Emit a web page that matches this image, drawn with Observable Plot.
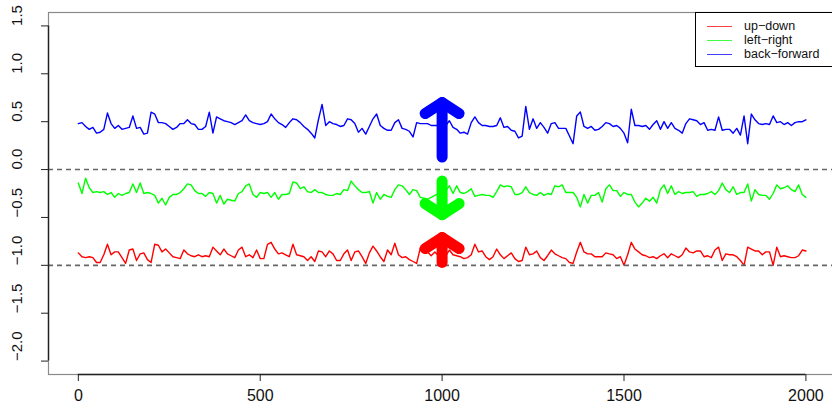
<!DOCTYPE html>
<html>
<head>
<meta charset="utf-8">
<script src="https://cdn.jsdelivr.net/npm/d3@7"></script>
<script src="https://cdn.jsdelivr.net/npm/@observablehq/plot@0.6"></script>
<style>
  html, body { margin: 0; padding: 0; background: #fff; overflow: hidden; }
  #chart { position: relative; width: 832px; height: 408px; font-family: "Liberation Sans", Arial, sans-serif; }
  #legend { position: absolute; left: 695px; top: 12px; width: 150px; height: 55px; border: 1px solid #000; box-sizing: border-box; background: #fff; }
  #legend .item { position: absolute; left: 0; height: 14px; font-size: 12.5px; color: #111; line-height: 14px; white-space: nowrap; }
  #legend .swatch { position: absolute; left: 11px; top: 7px; width: 25px; height: 1px; opacity: 0.75; }
  #legend .name { position: absolute; left: 48px; top: 0; }
</style>
</head>
<body>
<div id="chart"></div>
<script>
// Sample positions (every 10 steps from 0 to 2000)
const t = d3.range(0, 2001, 10);

// up-down channel
const upDown = [
  -0.87,-0.91,-0.92,-0.91,-0.92,-0.97,-0.97,-0.89,-0.78,-0.89,-0.86,-0.86,-0.92,-0.98,-0.84,-0.83,-0.95,-0.88,-0.87,-0.94,-0.97,-0.78,-0.79,-0.86,-0.83,-0.87,-0.91,-0.92,-0.93,-0.84,-0.88,-0.90,-0.91,-0.89,
  -0.91,-0.90,-0.91,-0.81,-0.85,-0.89,-0.83,-0.88,-0.90,-0.92,-0.84,-0.81,-0.91,-0.89,-0.92,-0.84,-0.93,-0.93,-0.78,-0.76,-0.83,-0.88,-0.87,-0.89,-0.91,-0.78,-0.89,-0.90,-0.91,-0.95,-0.91,-0.96,
  -0.85,-0.86,-0.91,-0.85,-0.88,-0.95,-0.95,-0.88,-0.84,-0.95,-0.86,-0.85,-0.91,-0.98,-0.87,-0.80,-0.85,-0.91,-0.96,-0.84,-0.89,-0.77,-0.89,-0.92,-0.91,-0.94,-0.96,-0.98,-0.82,-0.79,-0.86,-0.90,-0.86,-0.90,
  -0.89,-0.90,-0.84,-0.89,-0.90,-0.91,-0.93,-0.92,-0.89,-0.78,-0.86,-0.85,-0.91,-0.94,-0.91,-0.83,-0.89,-0.93,-0.90,-0.87,-0.93,-0.96,-0.95,-0.81,-0.89,-0.88,-0.85,-0.92,-0.95,-0.90,-0.84,-0.88,-0.90,
  -0.92,-0.93,-0.97,-0.98,-0.86,-0.76,-0.86,-0.88,-0.88,-0.91,-0.91,-0.91,-0.87,-0.88,-0.89,-0.93,-0.91,-1.00,-0.89,-0.76,-0.83,-0.86,-0.89,-0.90,-0.92,-0.91,-0.93,-0.90,-0.88,-0.92,-0.88,-0.90,-0.92,
  -0.89,-0.82,-0.86,-0.87,-0.85,-0.85,-0.91,-0.90,-0.92,-0.84,-0.81,-0.95,-0.88,-0.89,-0.89,-0.91,-0.95,-1.00,-0.81,-0.83,-0.85,-0.85,-0.89,-0.86,-0.86,-1.00,-0.81,-0.91,-0.90,-0.91,-0.92,-0.92,-0.90,-0.84,-0.85
];

// left-right channel
const leftRight = [
  -0.14,-0.25,-0.09,-0.19,-0.24,-0.23,-0.24,-0.23,-0.26,-0.24,-0.29,-0.25,-0.27,-0.25,-0.24,-0.15,-0.24,-0.14,-0.25,-0.24,-0.25,-0.27,-0.35,-0.30,-0.37,-0.29,-0.26,-0.26,-0.24,-0.20,-0.15,-0.16,-0.22,-0.25,
  -0.25,-0.28,-0.24,-0.25,-0.35,-0.27,-0.36,-0.31,-0.32,-0.33,-0.25,-0.23,-0.17,-0.15,-0.26,-0.29,-0.24,-0.25,-0.24,-0.29,-0.24,-0.31,-0.26,-0.26,-0.25,-0.13,-0.14,-0.20,-0.18,-0.23,-0.24,-0.21,
  -0.24,-0.24,-0.26,-0.27,-0.27,-0.25,-0.26,-0.21,-0.22,-0.12,-0.17,-0.21,-0.24,-0.24,-0.23,-0.35,-0.24,-0.31,-0.26,-0.28,-0.29,-0.21,-0.16,-0.17,-0.21,-0.26,-0.21,-0.22,-0.29,-0.30,-0.31,-0.29,-0.27,-0.25,
  -0.27,-0.22,-0.17,-0.25,-0.17,-0.24,-0.25,-0.23,-0.20,-0.28,-0.27,-0.26,-0.27,-0.27,-0.29,-0.23,-0.16,-0.18,-0.17,-0.18,-0.26,-0.26,-0.24,-0.18,-0.24,-0.26,-0.27,-0.24,-0.27,-0.25,-0.26,-0.17,-0.18,
  -0.16,-0.24,-0.24,-0.24,-0.29,-0.39,-0.26,-0.35,-0.27,-0.27,-0.24,-0.34,-0.20,-0.16,-0.22,-0.22,-0.28,-0.24,-0.26,-0.26,-0.34,-0.39,-0.35,-0.30,-0.33,-0.29,-0.35,-0.21,-0.16,-0.25,-0.17,-0.26,-0.23,
  -0.25,-0.24,-0.24,-0.23,-0.28,-0.26,-0.26,-0.25,-0.23,-0.26,-0.22,-0.14,-0.21,-0.24,-0.18,-0.26,-0.24,-0.24,-0.15,-0.33,-0.21,-0.26,-0.27,-0.27,-0.31,-0.25,-0.16,-0.20,-0.19,-0.17,-0.21,-0.23,-0.16,-0.26,-0.29
];

// back-forward channel
const backForward = [
  0.48,0.49,0.45,0.42,0.44,0.38,0.39,0.42,0.59,0.48,0.43,0.46,0.42,0.43,0.44,0.56,0.43,0.44,0.37,0.38,0.60,0.58,0.49,0.49,0.48,0.45,0.42,0.44,0.48,0.48,0.52,0.48,0.47,0.42,
  0.42,0.45,0.60,0.38,0.55,0.53,0.51,0.50,0.49,0.47,0.49,0.51,0.57,0.51,0.49,0.48,0.47,0.48,0.50,0.58,0.53,0.49,0.47,0.44,0.49,0.53,0.52,0.49,0.45,0.42,0.38,0.33,
  0.52,0.68,0.46,0.50,0.48,0.47,0.45,0.46,0.53,0.52,0.48,0.39,0.43,0.37,0.45,0.53,0.58,0.46,0.43,0.41,0.41,0.49,0.52,0.43,0.42,0.40,0.34,0.49,0.48,0.48,0.48,0.46,0.46,0.46,
  0.46,0.46,0.51,0.44,0.42,0.38,0.39,0.37,0.49,0.55,0.49,0.46,0.46,0.45,0.45,0.46,0.54,0.44,0.45,0.41,0.40,0.33,0.35,0.66,0.42,0.53,0.43,0.49,0.44,0.38,0.48,0.49,0.43,
  0.43,0.43,0.35,0.27,0.56,0.60,0.45,0.43,0.45,0.41,0.42,0.45,0.49,0.48,0.45,0.46,0.43,0.38,0.28,0.63,0.46,0.46,0.45,0.46,0.42,0.47,0.51,0.42,0.50,0.43,0.49,0.43,0.41,
  0.38,0.48,0.53,0.52,0.51,0.47,0.49,0.41,0.42,0.41,0.55,0.41,0.42,0.42,0.38,0.43,0.36,0.56,0.27,0.58,0.52,0.48,0.47,0.48,0.47,0.56,0.49,0.50,0.47,0.49,0.46,0.49,0.50,0.50,0.52
];

const seriesNames = ["up\u2212down", "left\u2212right", "back\u2212forward"];
const seriesColors = ["#ff0000", "#00ff00", "#0000ff"];
const seriesValues = [upDown, leftRight, backForward];

// Axis ticks and reference levels
const xTicks = [0, 500, 1000, 1500, 2000];
const yTicks = [-2, -1.5, -1, -0.5, 0, 0.5, 1, 1.5];
const refLevels = [0, -1];

// Direction arrows drawn at the middle of the record
const arrowX = [1000, 1000, 1000];
const arrowFrom = [0.13, -0.12, -0.97];
const arrowTo = [0.70, -0.47, -0.71];
const arrowColors = ["#0000ff", "#00ff00", "#ff0000"];

const xDomain = [-82, 2080];
const yDomain = [-2.14, 1.64];

const rows = seriesValues.flatMap((vals, s) =>
  vals.map((v, i) => ({t: t[i], v, s: seriesNames[s]}))
);
const arrows = arrowX.map((x, i) => ({x, y1: arrowFrom[i], y2: arrowTo[i], c: arrowColors[i],
  r: arrowTo[i] > arrowFrom[i] ? 0 : 180}));

// arrowhead: two wings meeting at the tip
const chevron = {
  draw(context) {
    context.moveTo(-17, 11);
    context.lineTo(0, 0);
    context.lineTo(17, 11);
  }
};

const fmt = d3.format(".1f");
const axisInk = "#222";

const plot = Plot.plot({
  width: 832,
  height: 408,
  marginLeft: 48,
  marginRight: -2.5,
  marginTop: 12,
  marginBottom: 34,
  style: {fontFamily: "'Liberation Sans', Arial, sans-serif", background: "#fff"},
  x: {domain: xDomain, axis: null},
  y: {domain: yDomain, axis: null},
  color: {domain: seriesNames, range: seriesColors},
  marks: [
    Plot.frame({stroke: "#8a8a8a", strokeWidth: 1.2}),
    Plot.line(rows, {x: "t", y: "v", z: "s", stroke: "s", strokeWidth: 1.4}),
    Plot.ruleY(refLevels, {stroke: "#666", strokeWidth: 1.6, strokeDasharray: "5,4"}),
    Plot.link(arrows, {x1: "x", x2: "x", y1: "y1", y2: "y2", stroke: "c", strokeWidth: 11, strokeLinecap: "round"}),
    Plot.vector(arrows, {x: "x", y: "y2", rotate: "r", length: 1, anchor: "start", shape: chevron,
      stroke: "c", strokeWidth: 11, strokeLinecap: "round", strokeLinejoin: "round", fill: "none"}),
    // axis lines over the tick range
    Plot.ruleX([xDomain[0]], {y1: yTicks[0], y2: yTicks[yTicks.length - 1], stroke: axisInk, strokeWidth: 1.4}),
    Plot.ruleY([yDomain[0]], {x1: xTicks[0], x2: xTicks[xTicks.length - 1], stroke: axisInk, strokeWidth: 1.4}),
    Plot.axisX({ticks: xTicks, tickSize: 7, tickPadding: 8, fontSize: 16, label: null, stroke: axisInk, fill: "#111", tickFormat: d3.format("d")}),
    Plot.axisY({ticks: yTicks, tickSize: 7, label: null, stroke: axisInk, tickFormat: () => ""}),
    Plot.text(yTicks, {y: d => d, text: d => fmt(d), frameAnchor: "left", dx: -31, rotate: -90, fontSize: 15, fill: "#111"})
  ]
});

const chart = document.getElementById("chart");
chart.appendChild(plot);

// Legend box in the top-right corner of the plot region
const legend = document.createElement("div");
legend.id = "legend";
seriesNames.forEach((name, i) => {
  const item = document.createElement("div");
  item.className = "item";
  item.style.top = (6 + i * 14) + "px";
  item.style.width = "150px";
  const sw = document.createElement("div");
  sw.className = "swatch";
  sw.style.background = seriesColors[i];
  const label = document.createElement("span");
  label.className = "name";
  label.textContent = name;
  item.appendChild(sw);
  item.appendChild(label);
  legend.appendChild(item);
});
chart.appendChild(legend);
</script>
</body>
</html>
